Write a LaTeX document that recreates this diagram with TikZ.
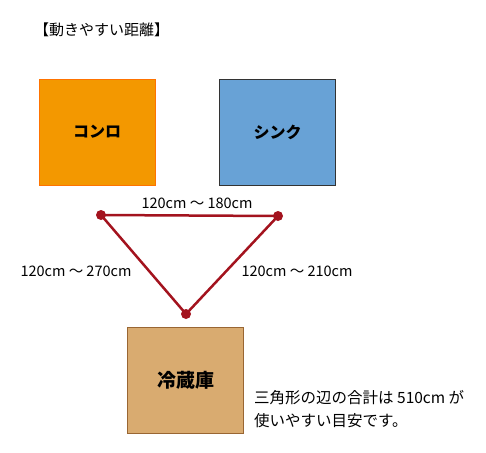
\documentclass[tikz,border=0pt]{standalone}
\usepackage{fontspec}
\setmainfont{Noto Sans CJK JP}
\usepackage{tikz}
\usetikzlibrary{ calc, positioning }
\definecolor{konroorange}{HTML}{F39800}
\definecolor{sinkblue}{HTML}{68A2D6}
\definecolor{fridgetan}{HTML}{D9AB70}
\definecolor{routered}{HTML}{A3131E}
\tikzset{
x=1pt, y=-1pt, % pixel like units, y grows downwards
every node/.style={inner sep=1pt},
place/.style={minimum width=116pt, minimum height=106pt, font=\fontsize{16}{18}\selectfont\bfseries}, % the three work places
corner/.style={circle, fill=routered, inner sep=0pt, minimum size=10pt}, % ends of the triangle
route/.style={routered, line width=2.5pt},
dist/.style={font=\fontsize{14.5}{16}\selectfont},
}

\begin{document}
\begin{tikzpicture}
  \useasboundingbox (0,0) rectangle (486,452);
  \node[font=\fontsize{15}{17}\selectfont, anchor=west] (title) at (33,30) {【動きやすい距離】};
  \node[place, fill=konroorange, draw=orange!90!red] (konro) at (97,132) {コンロ};
  \node[place, fill=sinkblue, draw=black!80] (sink) at (277.5,132) {シンク};
  \node[place, fill=fridgetan, draw=brown!80!black, font=\fontsize{19}{21}\selectfont\bfseries] (fridge) at (185.5,380) {冷蔵庫};
  \node[corner] (cKonro) at (101,215) {};
  \node[corner] (cSink) at (278,216) {};
  \node[corner] (cFridge) at (186,314) {};
  \draw[route] (cKonro.center) -- (cSink.center) -- (cFridge.center) -- cycle;
  \node[dist] (dTop) at (197,203) {120cm ～ 180cm};
  \node[dist] (dLeft) at (76,271) {120cm ～ 270cm};
  \node[dist] (dRight) at (297,271) {120cm ～ 210cm};
  \node[font=\fontsize{15.5}{23}\selectfont, align=left, anchor=north west] (note) at (253,389)
    {三角形の辺の合計は 510cm が\\使いやすい目安です。};
\end{tikzpicture}
\end{document}
